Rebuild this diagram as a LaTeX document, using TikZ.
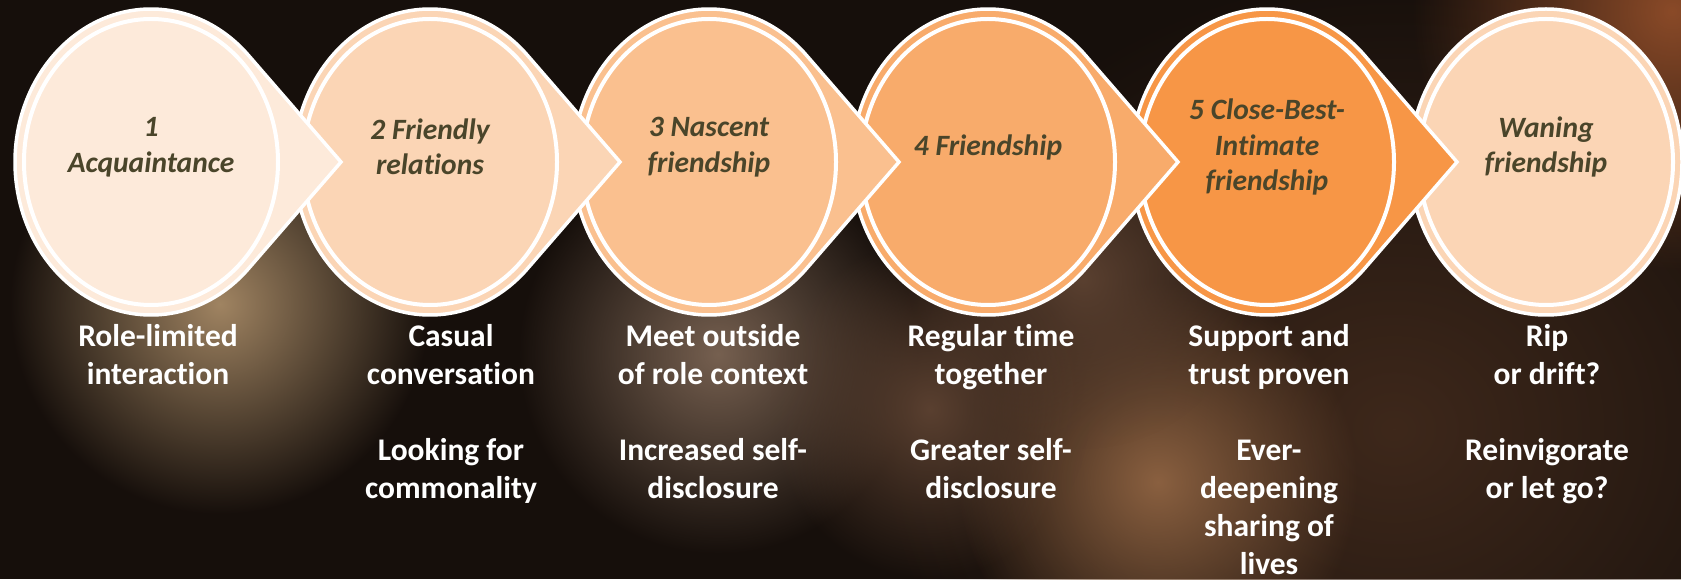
\documentclass[tikz,border=0pt]{standalone}
\usepackage{fontspec}
\setmainfont[Ligatures=NoCommon]{Carlito}
\usetikzlibrary{fadings}
\definecolor{bgdark}{HTML}{160F0B}
\definecolor{olive}{HTML}{4A452A}
\definecolor{stepa}{HTML}{FDEADA}
\definecolor{stepb}{HTML}{FBD5B5}
\definecolor{stepc}{HTML}{FAC08F}
\definecolor{stepd}{HTML}{F8AB6B}
\definecolor{stepe}{HTML}{F79646}
\definecolor{stepf}{HTML}{FBD5B5}
\definecolor{glowtan}{HTML}{A08462}
\definecolor{glowpeach}{HTML}{766050}
\definecolor{glowwarm}{HTML}{8A6040}
\definecolor{glowbrown}{HTML}{5A4030}
\definecolor{glowrust}{HTML}{8A4A28}
\definecolor{glowhaze}{HTML}{3E281B}
\tikzfading[name=soft,inner color=transparent!0,outer color=transparent!100]
\tikzset{
  glow/.style={path fading=soft},
  ring/.style={draw=white,line width=3.5pt,line join=miter},
  inner ring/.style={draw=white,line width=4pt},
  stage/.style={font=\fontsize{29.5}{35.5}\selectfont\bfseries\itshape,text=olive,align=center,inner sep=0pt,yshift=15pt},
  note/.style={font=\fontsize{31.5}{38}\selectfont\bfseries,text=white,align=center,inner sep=0pt,anchor=north}
}
\begin{document}
\begin{tikzpicture}[x=1pt,y=1pt]
\useasboundingbox (0,0) rectangle (1681,579);
% blurred backdrop
\fill[bgdark] (0,0) rectangle (1681,579);
\fill[glowhaze,glow] (1394,150) ellipse (520pt and 460pt);
\fill[glowtan,glow] (220,275) ellipse (210pt and 210pt);
\fill[glowpeach,glow] (718,225) ellipse (200pt and 200pt);
\fill[glowwarm,glow] (1158,97) ellipse (200pt and 200pt);
\fill[glowbrown,glow] (1083,300) ellipse (170pt and 170pt);
\fill[glowbrown,glow] (930,170) ellipse (160pt and 170pt);
\fill[glowrust,glow] (1672,568) ellipse (260pt and 260pt);
\coordinate (c1) at (151,417);
\coordinate (c2) at (430,417);
\coordinate (c3) at (709,417);
\coordinate (c4) at (988,417);
\coordinate (c5) at (1267,417);
\coordinate (c6) at (1546,417);
% circles, last one first so every tip lies on the next circle
\filldraw[ring,fill=stepf] (c6) ellipse (136pt and 153pt);
\filldraw[inner ring,fill=stepf] (c6) ellipse (127pt and 143pt);
\filldraw[ring,fill=stepe] ([xshift=190pt]c5) -- ([shift={(44.3:136pt and 153pt)}]c5) arc[start angle=44.3,end angle=315.7,x radius=136pt,y radius=153pt] -- cycle;
\filldraw[inner ring,fill=stepe] (c5) ellipse (127pt and 143pt);
\filldraw[ring,fill=stepd] ([xshift=190pt]c4) -- ([shift={(44.3:136pt and 153pt)}]c4) arc[start angle=44.3,end angle=315.7,x radius=136pt,y radius=153pt] -- cycle;
\filldraw[inner ring,fill=stepd] (c4) ellipse (127pt and 143pt);
\filldraw[ring,fill=stepc] ([xshift=190pt]c3) -- ([shift={(44.3:136pt and 153pt)}]c3) arc[start angle=44.3,end angle=315.7,x radius=136pt,y radius=153pt] -- cycle;
\filldraw[inner ring,fill=stepc] (c3) ellipse (127pt and 143pt);
\filldraw[ring,fill=stepb] ([xshift=190pt]c2) -- ([shift={(44.3:136pt and 153pt)}]c2) arc[start angle=44.3,end angle=315.7,x radius=136pt,y radius=153pt] -- cycle;
\filldraw[inner ring,fill=stepb] (c2) ellipse (127pt and 143pt);
\filldraw[ring,fill=stepa] ([xshift=190pt]c1) -- ([shift={(44.3:136pt and 153pt)}]c1) arc[start angle=44.3,end angle=315.7,x radius=136pt,y radius=153pt] -- cycle;
\filldraw[inner ring,fill=stepa] (c1) ellipse (127pt and 143pt);
% stage names
\node[stage] (l1) at (c1) {1\\Acquaintance};
\node[stage] (l2) at (c2) {2 Friendly\\relations};
\node[stage] (l3) at (c3) {3 Nascent\\friendship};
\node[stage] (l4) at (c4) {4 Friendship};
\node[stage] (l5) at (c5) {5 Close-Best-\\Intimate\\friendship};
\node[stage] (l6) at (c6) {Waning\\friendship};
% what happens at each stage
\node[note] (d1) at (158,255) {Role-limited\\interaction};
\node[note] (d2) at (451,255) {Casual\\conversation\\[38pt]Looking for\\commonality};
\node[note] (d3) at (713,255) {Meet outside\\of role context\\[38pt]Increased self-\\disclosure};
\node[note] (d4) at (991,255) {Regular time\\together\\[38pt]Greater self-\\disclosure};
\node[note] (d5) at (1269,255) {Support and\\trust proven\\[38pt]Ever-\\deepening\\sharing of\\lives};
\node[note] (d6) at (1547,255) {Rip\\or drift?\\[38pt]Reinvigorate\\or let go?};
\end{tikzpicture}
\end{document}
